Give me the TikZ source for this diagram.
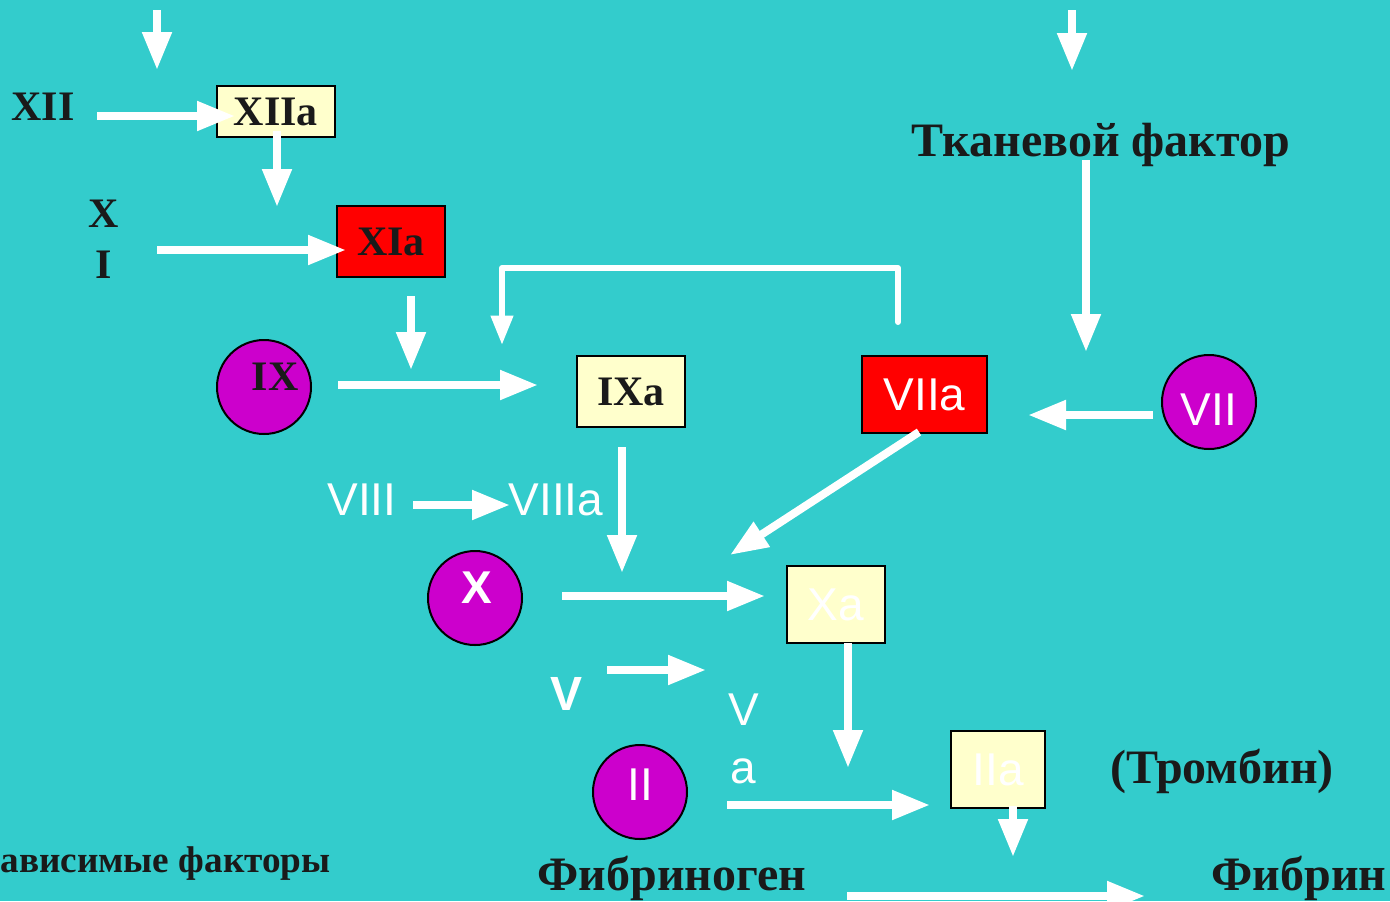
\documentclass[tikz,border=0pt]{standalone}
\usepackage{fontspec}
\setmainfont{Liberation Serif}
\setsansfont{Liberation Sans}
\usetikzlibrary{arrows.meta}
\definecolor{bgteal}{HTML}{33CCCC}
\definecolor{boxyellow}{HTML}{FFFFCC}
\definecolor{factormag}{HTML}{CC00CC}
\definecolor{txtblack}{HTML}{1A1A1A}

\tikzset{every picture/.style={line width=0.75pt}}
\tikzset{
  flow/.style={draw=white, line width=6pt, -{Triangle[length=28.5pt,width=21pt]}},
  loopline/.style={draw=white, line width=4.5pt, line cap=round, line join=round, -{Triangle[length=22pt,width=16pt]}},
  ybox/.style={draw=black, line width=1.5pt, fill=boxyellow, inner sep=0pt},
  rbox/.style={draw=black, line width=1.5pt, fill=red, inner sep=0pt},
  fcirc/.style={circle, draw=black, line width=1.5pt, fill=factormag, minimum size=70.5pt, inner sep=0pt},
  romfont/.style={font=\bfseries\fontsize{31.5}{36}\selectfont, text=txtblack},
  latfont/.style={font=\sffamily\fontsize{34.5}{40}\selectfont, text=white},
  rom/.style={romfont, inner sep=0pt, anchor=base},
  big/.style={font=\bfseries\fontsize{36}{40}\selectfont, text=txtblack, inner sep=0pt, anchor=base},
  lat/.style={latfont, inner sep=0pt, anchor=base},
}

\begin{document}
\begin{tikzpicture}[x=0.75pt,y=0.75pt,yscale=-1,xscale=1]
%set diagram to the size of the slide
\useasboundingbox (0,0) rectangle (1390,901);
\fill[bgteal] (0,0) rectangle (1390,901);

% Boxes
\node[ybox, romfont, minimum width=88.5pt, minimum height=38.25pt] (xiia) at (276,111.5) {XIIa};
\node[rbox, romfont, minimum width=81pt, minimum height=53.25pt] (xia) at (391,241.5) {XIa};
\node[ybox, romfont, minimum width=81pt, minimum height=53.25pt] (ixa) at (631,391.5) {IXa};
\node[rbox, latfont, minimum width=93.75pt, minimum height=57.75pt] (viia) at (924.5,394.5) {VIIa};
\node[ybox, latfont, minimum width=73.5pt, minimum height=57.75pt] (xa) at (836,604.5) {Xa};
\node[ybox, latfont, minimum width=70.5pt, minimum height=57.75pt] (iia) at (998,769.5) {IIa};

% Circles
\node[fcirc] (ix) at (264,387) {};
\node[fcirc] (vii) at (1209,402) {};
\node[fcirc] (xc) at (475,598) {};
\node[fcirc] (ii) at (640,792) {};

% Text Node
\node[rom] (xii) at (43,120) {XII};
\node[rom] (xitop) at (104,227) {X};
\node[rom] (xibot) at (104,278) {I};
\node[rom] (ixt) at (275,390) {IX};
\node[big] (tf) at (1101,156) {Тканевой фактор};
\node[lat] (viit) at (1209,425) {VII};
\node[lat] (viii) at (362,515) {VIII};
\node[lat] (viiia) at (556,515) {VIIIa};
\node[lat, font=\sffamily\bfseries\fontsize{34.5}{40}\selectfont] (xt) at (477,603) {X};
\node[lat, font=\sffamily\bfseries\fontsize{36}{40}\selectfont] (v) at (567,710) {V};
\node[lat] (vatop) at (744,725) {V};
\node[lat] (vabot) at (743,783) {a};
\node[lat] (iit) at (640,800) {II};
\node[big] (thr) at (1222,783) {(Тромбин)};
\node[big] (fgn) at (672,890) {Фибриноген};
\node[big] (fbn) at (1299,890) {Фибрин};
\node[big, font=\bfseries\fontsize{27.9}{32}\selectfont, anchor=base west] (deps) at (0,872) {ависимые факторы};

% Arrow ends
\coordinate (intop) at (157,10);   \coordinate (intopend) at (157,70);
\coordinate (extop) at (1072,10);  \coordinate (extopend) at (1072,71);
\coordinate (xiiout) at (97,116);  \coordinate (xiiain) at (235,116);
\coordinate (xiiaout) at (277,131); \coordinate (xiiadown) at (277,207);
\coordinate (xiout) at (157,250);  \coordinate (xiain) at (346,250);
\coordinate (xiaout) at (411,296); \coordinate (xiadown) at (411,370);
\coordinate (fbstart) at (898,322); \coordinate (fbend) at (502,345);
\coordinate (ixout) at (338,385);  \coordinate (ixain) at (538,385);
\coordinate (viiiout) at (413,505); \coordinate (viiiain) at (510,505);
\coordinate (ixaout) at (622,447); \coordinate (ixadown) at (622,573);
\coordinate (tfout) at (1086,160); \coordinate (tfdown) at (1086,352);
\coordinate (viiout) at (1153,415); \coordinate (viiain) at (1028,415);
\coordinate (viiaout) at (919,432); \coordinate (xadiag) at (730,555);
\coordinate (xout) at (562,596);   \coordinate (xain) at (765,596);
\coordinate (vout) at (607,670);   \coordinate (vain) at (706,670);
\coordinate (xaout) at (848,643);  \coordinate (xadown) at (848,768);
\coordinate (iiout) at (727,805);  \coordinate (iiain) at (930,805);
\coordinate (iiaout) at (1013,806); \coordinate (iiadown) at (1013,857);
\coordinate (fgnout) at (847,896); \coordinate (fbnin) at (1145,896);

% Straight Lines
\draw[flow] (intop) -- (intopend);
\draw[flow] (extop) -- (extopend);
\draw[flow] (xiiout) -- (xiiain);
\draw[flow] (xiiaout) -- (xiiadown);
\draw[flow] (xiout) -- (xiain);
\draw[flow] (xiaout) -- (xiadown);
\draw[loopline] (fbstart) -- (898,268) -- (502,268) -- (fbend);
\draw[flow] (ixout) -- (ixain);
\draw[flow] (viiiout) -- (viiiain);
\draw[flow] (ixaout) -- (ixadown);
\draw[flow] (tfout) -- (tfdown);
\draw[flow] (viiout) -- (viiain);
\draw[flow] (viiaout) -- (xadiag);
\draw[flow] (xout) -- (xain);
\draw[flow] (vout) -- (vain);
\draw[flow] (xaout) -- (xadown);
\draw[flow] (iiout) -- (iiain);
\draw[flow] (iiaout) -- (iiadown);
\draw[flow] (fgnout) -- (fbnin);
\end{tikzpicture}
\end{document}
